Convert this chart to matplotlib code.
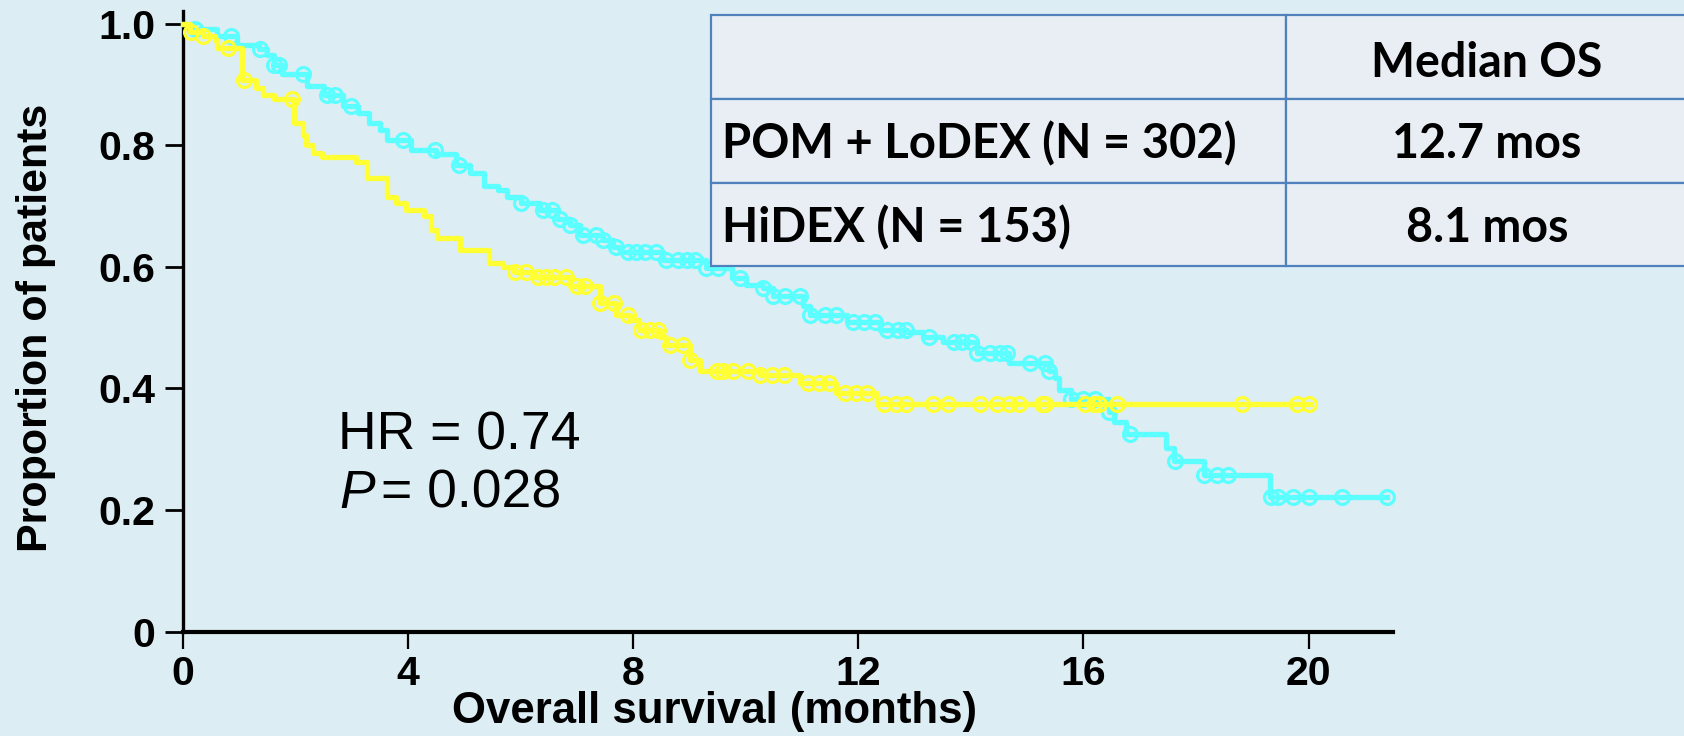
import numpy as np
import matplotlib

matplotlib.use("Agg")
import matplotlib.pyplot as plt
from matplotlib.patches import Rectangle

# Kaplan-Meier steps: time (months) -> survival after the step
pom_times = [0, 0.2, 0.6, 0.95, 1.35, 1.5, 1.62, 1.75, 2.2, 2.5, 2.85, 3.1, 3.3, 3.5, 3.62,
             4.05, 4.5, 4.85, 5.1, 5.35, 5.6, 5.75, 6.0, 6.35, 6.65, 6.87, 7.05, 7.46, 7.64,
             7.76, 8.53, 9.3, 9.75, 10.0, 10.3, 10.48, 11.02, 11.14, 11.79, 12.38, 12.86,
             13.15, 13.5, 14.1, 14.67, 15.38, 15.5, 15.56, 15.77, 16.45, 16.54, 16.75, 17.46,
             17.6, 18.14, 19.32]
pom_surv = [1.0, 0.992, 0.979, 0.965, 0.958, 0.948, 0.932, 0.918, 0.898, 0.882, 0.865, 0.853,
            0.836, 0.825, 0.809, 0.792, 0.786, 0.768, 0.754, 0.733, 0.726, 0.715, 0.705, 0.694,
            0.678, 0.669, 0.653, 0.644, 0.633, 0.625, 0.612, 0.598, 0.582, 0.570, 0.565, 0.552,
            0.535, 0.521, 0.510, 0.496, 0.493, 0.485, 0.476, 0.458, 0.442, 0.428, 0.417, 0.398,
            0.383, 0.362, 0.345, 0.325, 0.302, 0.280, 0.258, 0.222]
pom_end = 21.4
pom_censored = [0.22, 0.85, 1.36, 1.62, 1.7, 2.13, 2.55, 2.7, 2.98, 3.9, 4.48, 4.9, 6.0, 6.4,
                6.55, 6.7, 6.87, 7.1, 7.34, 7.46, 7.7, 7.9, 8.05, 8.2, 8.4, 8.58, 8.8, 8.95,
                9.1, 9.3, 9.5, 9.9, 10.3, 10.48, 10.7, 10.96, 11.14, 11.4, 11.6, 11.9, 12.1,
                12.3, 12.5, 12.7, 12.85, 13.26, 13.7, 13.85, 14.0, 14.1, 14.34, 14.52, 14.64,
                15.05, 15.32, 15.38, 15.77, 16.0, 16.2, 16.45, 16.83, 17.63, 18.14, 18.38,
                18.56, 19.33, 19.45, 19.73, 20.0, 20.6, 21.4]

hidex_times = [0, 0.12, 0.35, 0.57, 0.6, 1.05, 1.3, 1.42, 1.62, 1.97, 2.13, 2.19, 2.31, 2.47,
               3.07, 3.27, 3.62, 3.78, 3.97, 4.28, 4.4, 4.51, 4.92, 5.43, 5.69, 5.88, 6.26,
               6.87, 7.4, 7.7, 7.94, 8.11, 8.47, 8.59, 9.0, 9.18, 10.25, 10.96, 11.61, 12.33]
hidex_surv = [1.0, 0.987, 0.979, 0.973, 0.96, 0.907, 0.894, 0.883, 0.876, 0.836, 0.817, 0.800,
              0.787, 0.781, 0.773, 0.746, 0.715, 0.705, 0.693, 0.683, 0.660, 0.647, 0.628,
              0.606, 0.600, 0.592, 0.584, 0.568, 0.540, 0.521, 0.513, 0.496, 0.485, 0.472,
              0.447, 0.428, 0.422, 0.409, 0.392, 0.374]
hidex_end = 20.03
hidex_censored = [0.15, 0.35, 0.8, 1.08, 1.94, 5.9, 6.1, 6.3, 6.45, 6.6, 6.8, 7.0, 7.15, 7.4,
                  7.66, 7.9, 8.14, 8.29, 8.44, 8.65, 8.88, 9.0, 9.49, 9.6, 9.77, 10.04, 10.25,
                  10.46, 10.67, 11.1, 11.3, 11.47, 11.77, 11.95, 12.16, 12.45, 12.66, 12.84,
                  13.32, 13.6, 14.16, 14.46, 14.67, 14.85, 15.26, 15.32, 16.03, 16.18, 16.27,
                  16.6, 18.82, 19.8, 20.0]

x_ticks = [0, 4, 8, 12, 16, 20]
y_ticks = [0, 0.2, 0.4, 0.6, 0.8, 1.0]
y_ticklabels = ["0", "0.2", "0.4", "0.6", "0.8", "1.0"]

table_header = ["", "Median OS"]
table_rows = [["POM + LoDEX (N = 302)", "12.7 mos"],
              ["HiDEX (N = 153)", "8.1 mos"]]

BG = "#DCEDF4"
CYAN = "#5CFFFF"
YELLOW = "#FFFF33"
ARIAL = "Liberation Sans"
CALIBRI = "Lato"


def surv_at(times, surv, t):
    idx = np.searchsorted(times, t, side="right") - 1
    return np.asarray(surv)[idx]


def draw_km(ax, times, surv, end, censored, color):
    xs = np.r_[times, end]
    ys = np.r_[surv, surv[-1]]
    ax.step(xs, ys, where="post", color=color, lw=3.8, zorder=3, clip_on=False)
    cens = np.asarray(censored)
    ax.plot(cens, surv_at(times, surv, cens), "o", mfc="none", mec=color,
            ms=10, mew=2.3, zorder=3, clip_on=False)


fig = plt.figure(figsize=(16.84, 7.36), dpi=100, facecolor=BG)
ax = fig.add_axes([0.1087, 0.1417, 0.7185, 0.8427], facecolor=BG)

draw_km(ax, pom_times, pom_surv, pom_end, pom_censored, CYAN)
draw_km(ax, hidex_times, hidex_surv, hidex_end, hidex_censored, YELLOW)

ax.set_xlim(0, 21.5)
ax.set_ylim(0, 1.02)
ax.set_xticks(x_ticks)
ax.set_yticks(y_ticks)
ax.set_yticklabels(y_ticklabels)
for lab in ax.get_xticklabels() + ax.get_yticklabels():
    lab.set_fontfamily(ARIAL)
    lab.set_fontweight("bold")
    lab.set_fontsize(29.5)
ax.tick_params(axis="y", length=13, width=2, pad=7, color="black")
ax.tick_params(axis="x", length=12, width=1.6, pad=5, color="black")
ax.spines["top"].set_visible(False)
ax.spines["right"].set_visible(False)
ax.spines["left"].set_linewidth(2.4)
ax.spines["bottom"].set_linewidth(3)

# overlay in pixel coordinates (y down) for labels, table and the HR text
ov = fig.add_axes([0, 0, 1, 1], zorder=5)
ov.set_xlim(0, 1684)
ov.set_ylim(736, 0)
ov.axis("off")
ov.patch.set_alpha(0)

ov.text(714, 711, "Overall survival (months)", ha="center", va="center",
        fontsize=31.5, fontweight="bold", family=ARIAL)
ov.text(36, 328, "Proportion of patients", rotation=90, ha="center", va="center",
        fontsize=31, fontweight="bold", family=ARIAL)

ov.text(338, 449, "HR = 0.74", fontsize=38.5, family=ARIAL, va="baseline")
ov.text(339, 508, "P", fontsize=38.5, family=ARIAL, style="italic", va="baseline")
ov.text(381, 508, "= 0.028", fontsize=38.5, family=ARIAL, va="baseline")

row_edges = [15, 99, 183, 266]
col_edges = [711, 1286, 1690]
for r in range(3):
    for c in range(2):
        ov.add_patch(Rectangle((col_edges[c], row_edges[r]),
                               col_edges[c + 1] - col_edges[c],
                               row_edges[r + 1] - row_edges[r],
                               facecolor="#E9EEF5", edgecolor="#4F81BD", lw=1.6,
                               clip_on=False))

baselines = [77, 158, 242]
ov.text(1487, baselines[0], table_header[1], ha="center", va="baseline",
        fontsize=33.5, fontweight="bold", family=CALIBRI)
for i, (label, median) in enumerate(table_rows):
    ov.text(722, baselines[i + 1], label, ha="left", va="baseline",
            fontsize=34, fontweight="bold", family=CALIBRI)
    ov.text(1487, baselines[i + 1], median, ha="center", va="baseline",
            fontsize=33.5, fontweight="bold", family=CALIBRI)

fig.savefig("out.png", dpi=100, facecolor=BG)
